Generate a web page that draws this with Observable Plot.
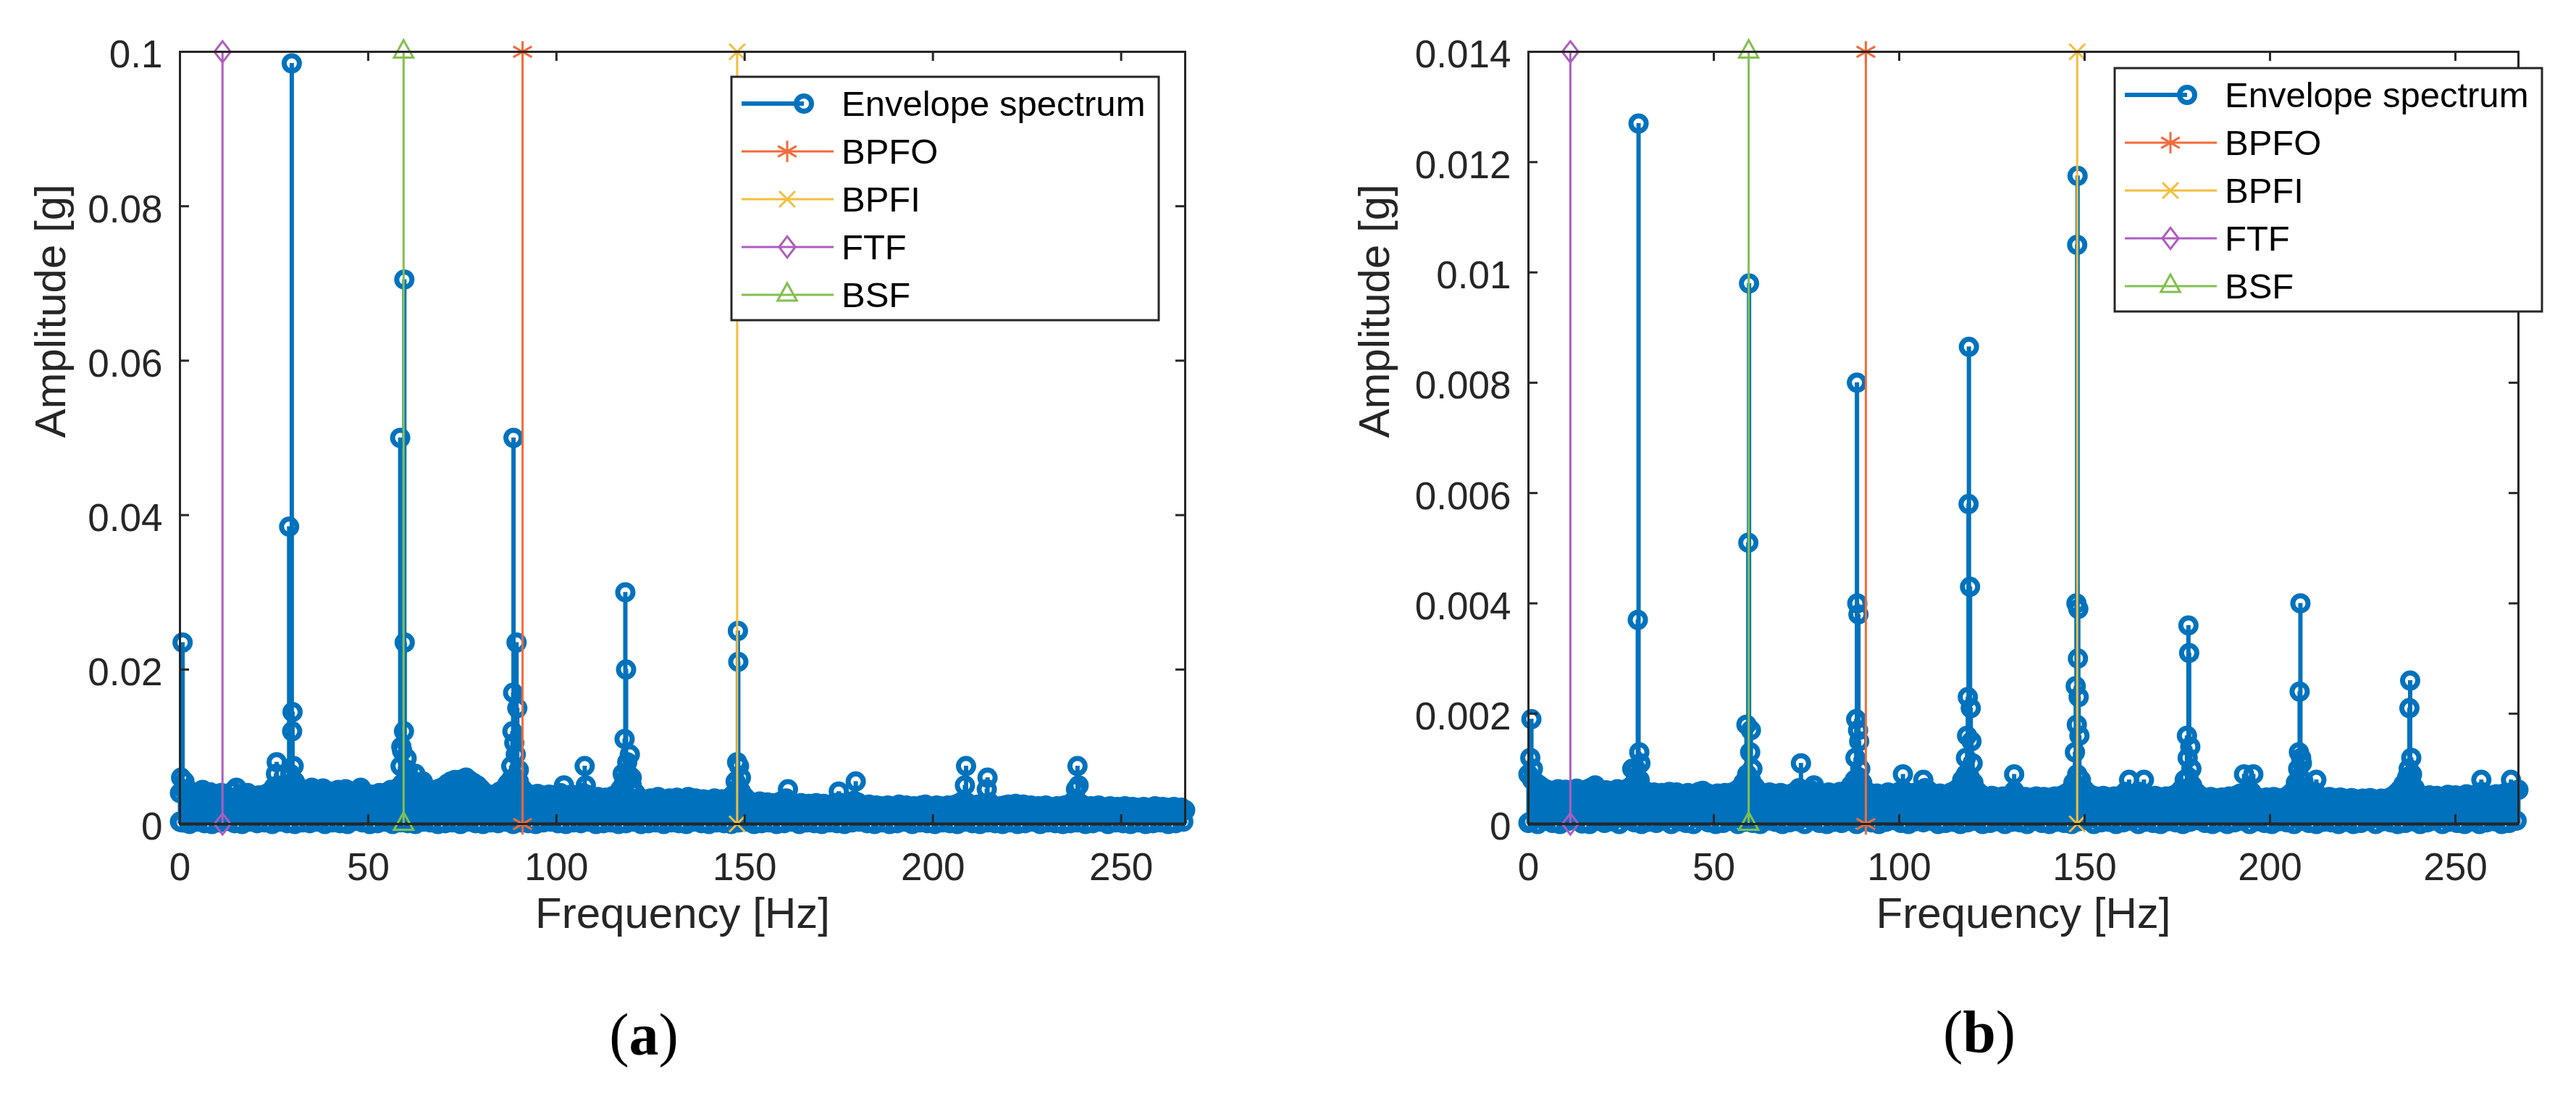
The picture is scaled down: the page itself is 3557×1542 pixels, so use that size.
<!DOCTYPE html>
<html><head><meta charset="utf-8">
<script src="https://cdn.jsdelivr.net/npm/d3@7"></script>
<script src="https://cdn.jsdelivr.net/npm/@observablehq/plot@0.6"></script>
<style>
html,body{margin:0;padding:0;background:#fff;overflow:hidden;}
#fig{position:relative;width:3557px;height:1542px;overflow:hidden;background:#fff;font-family:"Liberation Sans",Arial,sans-serif;}
#fig svg.panel{position:absolute;top:0;}
#fig svg.legend{position:absolute;}
.cap{position:absolute;font-family:"Liberation Serif","Times New Roman",serif;font-size:82px;line-height:1;width:300px;text-align:center;color:#000;}
</style></head><body><div id="fig"></div>
<script>
// ---------------- DATA ----------------
const xTicks = [0, 50, 100, 150, 200, 250];
const yTicksA = [0, 0.02, 0.04, 0.06, 0.08, 0.1];
const yTicksB = [0, 0.002, 0.004, 0.006, 0.008, 0.01, 0.012, 0.014];
const xLabel = "Frequency [Hz]";
const yLabel = "Amplitude [g]";
const seriesName = "Envelope spectrum";
const charNames = ["BPFO", "BPFI", "FTF", "BSF"];
const charFreqs = [91.0, 148.0, 11.3, 59.4];
const captions = ["a", "b"];

// noise floor, (a) in 1e-4 g, one value per Hz starting at 0 Hz
const noiseA = [
40,45,38,42,36,40,44,37,41,39,
36,40,38,35,42,47,38,36,40,37,
34,37,35,39,42,48,50,45,40,52,
48,44,46,41,43,47,45,42,46,40,
42,38,44,41,45,43,39,42,47,41,
36,38,35,40,37,41,44,43,47,52,
55,52,50,48,52,47,45,44,42,46,
48,52,55,57,54,58,60,56,53,50,
45,40,38,36,39,42,45,52,58,60,
55,45,40,38,36,39,37,35,38,36,
38,40,37,36,38,35,37,40,38,35,
33,35,32,34,31,36,38,45,55,58,
50,40,34,32,30,33,31,35,32,30,
33,31,34,30,32,35,31,33,30,32,
31,29,33,30,32,31,34,38,45,42,
35,30,28,27,29,26,28,27,25,28,
30,33,28,26,25,27,24,26,25,27,
24,26,23,25,27,28,24,26,25,30,
28,24,23,25,22,24,23,21,24,22,
23,25,22,24,21,23,22,24,25,23,
22,24,23,21,24,22,25,27,30,28,
24,22,25,23,26,28,24,22,23,24,
25,24,26,23,25,22,24,21,23,22,
24,22,21,23,22,24,25,28,30,27,
24,22,23,21,24,22,20,23,21,22,
21,23,20,22,21,19,22,20,21,23,
20,22,21,19,22,20,21,18];
// low-lying bins, (a) in 1e-4 g, every 2 Hz starting at 0.5 Hz
const lowA = [
2,0,3,1,0,2,4,1,0,3,
1,2,0,3,1,0,2,1,3,0,
2,1,0,4,2,0,1,3,0,2,
1,0,3,2,0,1,2,0,3,1,
0,2,1,3,0,2,1,0,2,3,
1,0,2,1,3,0,1,2,0,1,
3,0,1,2,0,2,1,0,3,1,
0,2,1,0,2,3,0,1,2,0,
1,3,0,2,1,0,2,1,0,2,
3,1,0,2,0,1,3,0,2,1,
0,2,1,0,3,1,0,2,1,0,
2,0,1,3,0,2,1,0,1,2,
0,1,3,0,2,1,0,2,0,1,
2,0,1,3];
// spectral lines, (a)
const peakFreqA = [0.0,0.3,0.7,1.2, 25.5,25.7,
  29.0,29.3,29.7,29.8,29.9,30.2,30.5,
  58.5,58.6,58.8,59.0,59.5,59.6,59.7,60.2,60.5,61.0,
  62.5,64.5,
  88.0,88.3,88.5,88.6,88.8,89.2,89.4,89.6,90.0,
  102.0,107.5,107.8,
  117.6,118.1,118.3,118.5,118.8,119.0,119.5,120.0,
  147.6,148.0,148.2,148.3,148.5,149.0,
  161.5,175.0,179.5,
  208.5,208.8,214.3,214.5,
  238.0,238.4,238.7];
const peakAmpA = [0.0003,0.006,0.0235,0.0055, 0.0065,0.0080,
  0.0385,0.0065,0.0985,0.0120,0.0145,0.0075,0.0055,
  0.0500,0.0075,0.0100,0.0095,0.0120,0.0705,0.0235,0.0085,0.0070,0.0060,
  0.0065,0.0055,
  0.0075,0.0120,0.0170,0.0500,0.0105,0.0090,0.0235,0.0150,0.0070,
  0.0050,0.0075,0.0050,
  0.0065,0.0110,0.0300,0.0200,0.0080,0.0065,0.0090,0.0060,
  0.0055,0.0080,0.0250,0.0210,0.0075,0.0060,
  0.0045,0.0042,0.0055,
  0.0050,0.0075,0.0045,0.0060,
  0.0045,0.0075,0.0050];

// noise floor, (b) in 1e-5 g, one value per Hz starting at 0 Hz
const noiseB = [
90,80,75,70,65,62,60,58,63,60,
62,58,60,64,61,59,63,66,70,62,
58,61,57,60,63,59,62,65,70,85,
80,62,58,55,57,53,56,54,58,55,
57,54,52,56,53,55,58,60,56,54,
52,55,53,56,54,57,60,65,75,85,
80,68,60,56,54,57,55,52,56,54,
53,55,58,65,60,57,62,70,58,55,
54,57,53,55,58,56,60,70,80,85,
75,60,56,53,55,52,54,57,53,55,
58,62,57,54,56,53,57,65,60,55,
53,55,52,54,57,60,65,80,90,85,
75,60,54,50,48,51,49,47,50,48,
52,60,50,47,49,46,48,50,47,49,
46,48,50,47,52,55,60,75,90,80,
62,55,52,50,48,51,49,47,50,48,
52,58,55,50,53,58,55,50,48,51,
49,47,50,48,52,55,62,80,85,70,
58,52,48,46,49,47,45,48,46,50,
48,52,55,50,53,58,50,47,45,48,
46,49,47,45,48,52,58,75,85,78,
60,55,58,52,48,46,49,47,45,48,
46,44,47,45,43,46,44,47,45,43,
46,44,47,50,55,62,72,85,80,65,
55,50,48,52,49,51,48,50,53,50,
52,49,51,54,50,52,55,58,53,50,
52,54,51,55,53,57,60,62];
// low-lying bins, (b) in 1e-5 g, every 2 Hz starting at 0.5 Hz
const lowB = [
4,0,6,2,0,5,8,1,0,6,
2,5,0,7,3,0,4,2,6,0,
5,2,0,8,3,0,2,6,0,4,
2,0,6,4,0,3,5,0,7,2,
0,4,2,6,0,5,3,0,4,7,
2,0,5,3,6,0,2,4,0,3,
6,0,2,5,0,4,3,0,6,2,
0,4,2,0,5,7,0,3,4,0,
3,6,0,4,2,0,5,3,0,4,
7,2,0,4,0,3,6,0,5,2,
0,5,3,0,6,2,0,4,3,0,
4,0,2,6,0,5,3,0,2,5,
0,3,6,0,4,2,0,5,0,3,
5,0,2,6];
// spectral lines, (b)
const peakFreqB = [0.0,0.5,0.8,1.2,
  28.0,29.0,29.5,29.7,29.9,30.2,
  58.8,59.0,59.3,59.5,59.8,60.0,60.4,
  73.5,
  88.2,88.4,88.6,88.7,88.9,89.0,89.2,89.5,
  101.0,106.5,
  118.0,118.3,118.5,118.7,118.8,119.1,119.3,119.5,119.8,
  131.0,
  147.4,147.6,147.8,147.9,148.0,148.1,148.2,148.3,148.4,148.6,
  162.0,166.0,
  177.6,177.8,178.0,178.2,178.5,178.8,
  193.0,195.5,
  207.6,207.8,208.0,208.2,208.4,208.6,
  212.5,
  237.4,237.6,237.8,238.1,238.3,
  257.0,265.0];
const peakAmpB = [0.00002,0.0012,0.0019,0.0010,
  0.0010,0.0010,0.0037,0.0127,0.0013,0.0011,
  0.0018,0.0009,0.0051,0.0098,0.0013,0.0017,0.0010,
  0.0011,
  0.0012,0.0019,0.0080,0.0040,0.0017,0.0038,0.0015,0.0010,
  0.0009,0.0008,
  0.0012,0.0016,0.0023,0.0058,0.00865,0.0043,0.0021,0.0015,0.0011,
  0.0009,
  0.0013,0.0025,0.0040,0.0018,0.0105,0.01175,0.0030,0.0039,0.0023,0.0016,
  0.0008,0.0008,
  0.0016,0.0012,0.0036,0.0031,0.0014,0.0010,
  0.0009,0.0009,
  0.0010,0.0013,0.0024,0.0040,0.0012,0.0011,
  0.0008,
  0.0010,0.0021,0.0026,0.0012,0.0009,
  0.0008,0.0008];

// ---------------- STYLE ----------------
const BLUE = "#0072BD";
const charColors = ["#F26B3A", "#F2BE3C", "#AD5DBE", "#82BF4F"];
const diamondSym = {draw(ctx, size) { const r = Math.sqrt(size / Math.PI); const hy = 1.04 * r, hx = 0.8 * r;
  ctx.moveTo(0, -hy); ctx.lineTo(hx, 0); ctx.lineTo(0, hy); ctx.lineTo(-hx, 0); ctx.closePath(); }};
const triSym = {draw(ctx, size) { const r = Math.sqrt(size / Math.PI);
  ctx.moveTo(0, -1.15 * r); ctx.lineTo(0.95 * r, 0.57 * r); ctx.lineTo(-0.95 * r, 0.57 * r); ctx.closePath(); }};
const charSymbols = [d3.symbolAsterisk, d3.symbolTimes, diamondSym, triSym];
const charR = [14, 10, 14, 14];

function buildSeries(noise, low, unit, pf, pa) {
  const pts = [];
  noise.forEach((v, i) => pts.push({f: i, v: v * unit}));
  low.forEach((v, i) => pts.push({f: 0.5 + 2 * i, v: v * unit}));
  pf.forEach((f, i) => pts.push({f, v: pa[i]}));
  return pts;
}

const FIG = document.getElementById("fig");

function panel({left, width, marginLeft, marginRight, yMax, yTicks, data, yTitleDx}) {
  const height = 1340, marginTop = 71, marginBottom = 203;
  const plotW = width - marginLeft - marginRight, plotH = height - marginTop - marginBottom;
  const ink = "#262626";
  const marks = [
    Plot.ruleX(data, {x: "f", y1: 0, y2: "v", stroke: BLUE, strokeWidth: 6}),
    Plot.dot(data, {x: "f", y: "v", r: 10.5, stroke: BLUE, strokeWidth: 7, fill: "none"}),
    Plot.ruleY([0], {stroke: "#161616", strokeWidth: 4})
  ];
  charNames.forEach((name, i) => {
    const pts = [{f: charFreqs[i], y: 0}, {f: charFreqs[i], y: yMax}];
    marks.push(Plot.ruleX([pts[0]], {x: "f", y1: 0, y2: yMax, stroke: charColors[i], strokeWidth: 3}));
    marks.push(Plot.dot(pts, {x: "f", y: "y", symbol: charSymbols[i], r: charR[i], stroke: charColors[i], strokeWidth: 3, fill: "none"}));
  });
  marks.push(
    Plot.frame({stroke: ink, strokeWidth: 3}),
    Plot.ruleX(xTicks, {x: d => d, insetTop: plotH - 13, stroke: ink, strokeWidth: 3}),
    Plot.ruleX(xTicks, {x: d => d, insetBottom: plotH - 13, stroke: ink, strokeWidth: 3}),
    Plot.ruleY(yTicks, {y: d => d, insetRight: plotW - 13, stroke: ink, strokeWidth: 3}),
    Plot.ruleY(yTicks, {y: d => d, insetLeft: plotW - 13, stroke: ink, strokeWidth: 3}),
    Plot.axisX({ticks: xTicks, tickSize: 0, tickPadding: 40, label: null, tickFormat: d => String(d)}),
    Plot.axisY({ticks: yTicks, tickSize: 0, tickPadding: 24, dy: 5, label: null, tickFormat: d => String(d)}),
    Plot.text([xLabel], {text: d => d, frameAnchor: "bottom", dy: 143, fontSize: 60, fill: ink}),
    Plot.text([yLabel], {text: d => d, frameAnchor: "left", dx: yTitleDx, rotate: -90, fontSize: 60, fill: ink})
  );
  const svg = Plot.plot({
    width, height, marginLeft, marginRight, marginTop, marginBottom,
    x: {domain: [0, 267]},
    y: {domain: [0, yMax]},
    style: {fontFamily: "'Liberation Sans', Arial, sans-serif", fontSize: "53px", color: ink, background: "white", overflow: "visible"},
    marks
  });
  svg.setAttribute("class", "panel");
  svg.style.position = "absolute";
  svg.style.left = left + "px";
  svg.style.top = "0px";
  FIG.appendChild(svg);
}

function legend(left, top) {
  const W = 590, H = 336, pad = 3;
  const svg = d3.select(FIG).append("svg").attr("class", "legend")
    .attr("width", W + 2 * pad).attr("height", H + 2 * pad)
    .style("left", (left - pad) + "px").style("top", (top - pad) + "px");
  const g = svg.append("g").attr("transform", `translate(${pad},${pad})`);
  g.append("rect").attr("width", W).attr("height", H).attr("fill", "#fff").attr("stroke", "#262626").attr("stroke-width", 3);
  const names = [seriesName, ...charNames];
  names.forEach((name, i) => {
    const y = 37 + 66 * i;
    if (i === 0) {
      g.append("line").attr("x1", 14).attr("x2", 100).attr("y1", y).attr("y2", y).attr("stroke", BLUE).attr("stroke-width", 6);
      g.append("circle").attr("cx", 100).attr("cy", y).attr("r", 10.5).attr("fill", "none").attr("stroke", BLUE).attr("stroke-width", 7);
    } else {
      const c = charColors[i - 1];
      g.append("line").attr("x1", 14).attr("x2", 141).attr("y1", y).attr("y2", y).attr("stroke", c).attr("stroke-width", 3);
      const r = charR[i - 1];
      g.append("path").attr("transform", `translate(77,${y})`)
        .attr("d", d3.symbol().type(charSymbols[i - 1]).size(Math.PI * r * r)())
        .attr("fill", "none").attr("stroke", c).attr("stroke-width", 3);
    }
    g.append("text").attr("x", 152).attr("y", y).attr("dy", "0.35em")
      .attr("font-family", "'Liberation Sans', Arial, sans-serif").attr("font-size", 49).attr("fill", "#000").text(name);
  });
}

function caption(cx, cy, letter) {
  const d = document.createElement("div");
  d.className = "cap";
  d.style.left = (cx - 150) + "px";
  d.style.top = (cy - 48) + "px";
  d.innerHTML = "(<b>" + letter + "</b>)";
  FIG.appendChild(d);
}

const dataA = buildSeries(noiseA, lowA, 1e-4, peakFreqA, peakAmpA);
const dataB = buildSeries(noiseB, lowB, 1e-5, peakFreqB, peakAmpB);

panel({left: 0, width: 1778, marginLeft: 248, marginRight: 142, yMax: 0.1, yTicks: yTicksA, data: dataA, yTitleDx: -178});
panel({left: 1778, width: 1779, marginLeft: 332, marginRight: 80, yMax: 0.014, yTicks: yTicksB, data: dataB, yTitleDx: -212});
legend(1010, 106);
legend(2920, 94);
caption(889, 1436, captions[0]);
caption(2733, 1432, captions[1]);
</script></body></html>
